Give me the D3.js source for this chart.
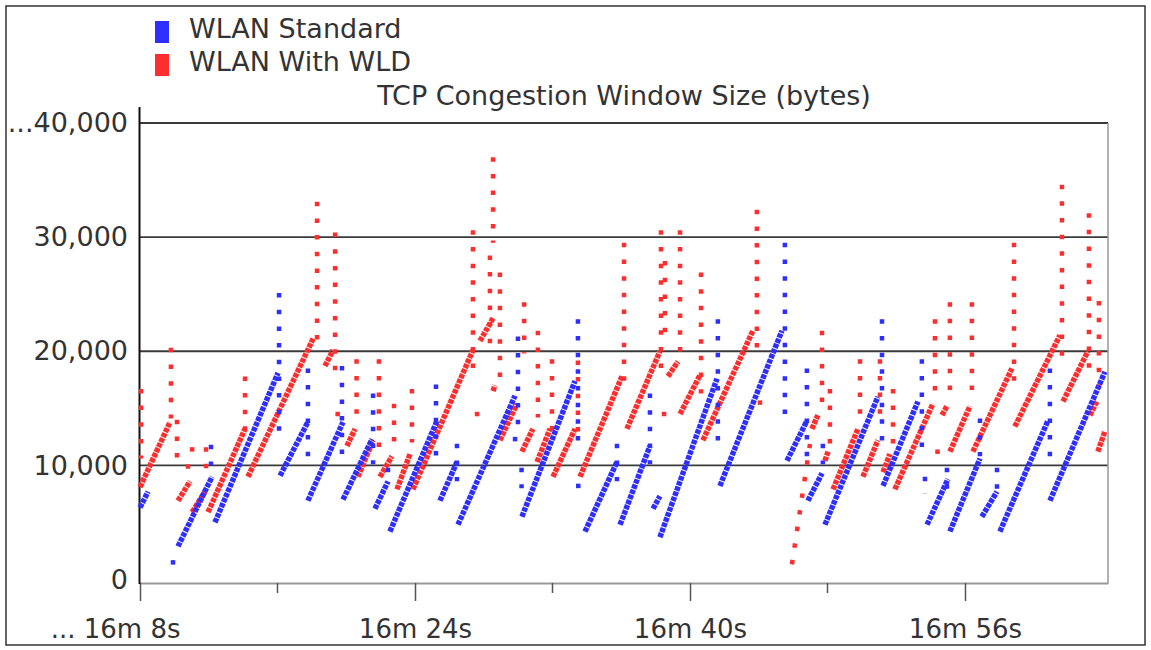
<!DOCTYPE html>
<html>

<head>
    <meta charset="utf-8">
    <script src="https://d3js.org/d3.v7.min.js"></script>
    <style>
        body { margin: 0; background: #fff; }
        text { font-family: "DejaVu Sans", Verdana, sans-serif; fill: #333; }
    </style>
    <script>
        // time is in seconds after 16m 8s, window size in bytes
        let seriesNames = ["WLAN Standard", "WLAN With WLD"];
        let seriesColors = ["#2e2eff", "#ff2e2e"];

        let xTicks = [0, 16, 32, 48];
        let xTickLabels = ["... 16m 8s", "16m 24s", "16m 40s", "16m 56s"];
        let xMinorTicks = [8, 24, 40];
        let yTicks = [0, 10000, 20000, 30000, 40000];
        let yTickLabels = ["0", "10,000", "20,000", "30,000", "...40,000"];

        // growth ramps: [t start, bytes start, t end, bytes end]
        let blueRamps = [
            [0.00, 6300, 0.47, 7700], [2.21, 2900, 4.19, 9000], [4.36, 5000, 8.03, 18100],
            [8.15, 9100, 9.77, 13800], [9.77, 6900, 11.81, 13800], [11.81, 7000, 13.50, 12300],
            [13.67, 6200, 14.43, 8600], [14.54, 4200, 17.28, 13900], [17.45, 6900, 18.44, 10300],
            [18.50, 4800, 21.82, 16100], [22.22, 5500, 25.31, 17400], [25.89, 4200, 27.75, 10300],
            [27.93, 4800, 29.67, 11700], [29.85, 6200, 30.25, 7300], [30.25, 3700, 33.57, 17600],
            [33.74, 8200, 37.35, 21800], [37.64, 10400, 38.80, 13900], [38.86, 6900, 39.68, 9300],
            [39.85, 4800, 42.93, 16000], [43.23, 8200, 45.26, 15600], [45.79, 4800, 47.01, 8800],
            [47.12, 4200, 48.87, 10600], [48.98, 5500, 49.86, 7700], [50.03, 4200, 52.82, 13900],
            [52.94, 6900, 56.14, 18200]
        ];
        let redRamps = [
            [0.00, 8100, 1.75, 13800], [2.21, 6900, 2.91, 8600], [3.03, 5900, 3.78, 7700],
            [3.96, 5900, 6.11, 13200], [6.28, 9000, 10.07, 21100], [10.76, 18700, 11.23, 20100],
            [12.04, 11700, 12.51, 13200], [12.68, 9000, 13.56, 12200], [13.96, 9000, 14.66, 10800],
            [14.95, 7900, 15.71, 11000], [15.88, 7900, 19.37, 20100], [19.78, 20900, 20.54, 22900],
            [20.54, 16500, 20.65, 17000], [20.94, 12200, 21.93, 15400], [22.22, 11200, 22.86, 13200],
            [23.10, 10300, 23.85, 13200], [24.03, 9000, 25.31, 13200], [25.60, 9000, 28.04, 17800],
            [28.33, 13200, 30.25, 20000], [30.72, 17800, 31.30, 19100], [31.42, 14500, 32.58, 17900],
            [32.75, 12200, 35.66, 21800], [39.09, 13200, 39.44, 14400], [39.85, 10400, 40.03, 11200],
            [40.32, 7900, 41.77, 13200], [42.06, 9000, 42.93, 12200], [43.23, 9400, 43.63, 11000],
            [43.92, 7900, 46.13, 15400], [46.66, 14400, 46.95, 15200], [47.12, 11200, 48.29, 15200],
            [48.46, 11200, 50.73, 18500], [50.90, 13400, 53.52, 21400], [53.70, 15600, 55.15, 20000],
            [55.27, 14400, 55.67, 15600], [55.73, 11200, 56.14, 13000]
        ];

        // vertical runs of samples at one instant: [t, bytes low, bytes high]
        let blueSpikes = [
            [1.92, 1500, 1500], [4.13, 10200, 11600], [8.09, 13200, 24900], [9.77, 10800, 18300],
            [11.75, 10800, 18500], [13.56, 10300, 16100], [14.43, 9600, 9600], [17.22, 11000, 16900],
            [18.44, 8800, 11700], [21.82, 12300, 12300], [21.99, 13800, 21100], [22.20, 8200, 9600],
            [25.48, 12300, 22600], [25.50, 8200, 8200], [27.75, 8800, 11700], [29.67, 10300, 16100],
            [33.62, 12300, 22600], [37.52, 14500, 29300], [38.80, 11000, 18300], [39.73, 10300, 11700],
            [43.17, 12300, 22600], [45.49, 11700, 19100], [45.67, 7700, 8800], [46.95, 8100, 9600],
            [48.87, 11000, 13900], [49.86, 8100, 9600], [52.94, 11000, 18300]
        ];
        let redSpikes = [
            [0.06, 10800, 16500], [1.80, 14300, 20100], [2.15, 10000, 13800], [2.79, 9900, 9900],
            [3.03, 11400, 11400], [3.84, 9900, 11400], [6.11, 13200, 17600], [10.30, 21100, 32900],
            [11.35, 18500, 30200], [11.50, 14500, 14500], [12.60, 14700, 19100], [13.90, 11500, 19100],
            [14.78, 12200, 15200], [15.82, 12200, 16500], [19.37, 18500, 30400], [19.61, 14500, 14500],
            [20.36, 20900, 28200], [20.54, 29700, 36800], [20.94, 17900, 26700], [22.35, 20000, 24100],
            [23.15, 14400, 21600], [23.97, 13200, 19100], [25.48, 13000, 19000], [28.16, 17600, 29300],
            [30.31, 18500, 30400], [30.49, 14500, 14500], [30.54, 21800, 27700], [31.42, 20000, 30400],
            [32.64, 16500, 26700], [35.89, 19600, 32200], [36.07, 15500, 15500], [39.68, 15600, 21600],
            [40.14, 12100, 16500], [41.89, 14700, 19100], [43.05, 14400, 19100], [43.81, 12100, 16500],
            [46.25, 16700, 22600], [46.40, 11200, 11200], [47.12, 16700, 24100], [48.40, 16700, 24100],
            [50.85, 17600, 29300], [53.64, 19600, 34400], [55.21, 18500, 31900], [55.79, 16700, 24200]
        ];
        // the sparse restart after the drop near 16m 46s: [t start, bytes start, t end, bytes end]
        let redRestart = [[37.93, 1500, 38.98, 11700]];

        let width = 1151;
        let height = 650;

        function draw() {
            let svg = d3.select('body').append('svg')
                .attr('width', width)
                .attr('height', height);

            let x = d3.scaleLinear().domain([0, 56.32]).range([140, 1108]);
            let y = d3.scaleLinear().domain([0, 40000]).range([579.5, 123]);

            // outer frame
            svg.append("rect")
                .attr("x", 6).attr("y", 6)
                .attr("width", 1139).attr("height", 639)
                .attr("fill", "none").attr("stroke", "#333").attr("stroke-width", 1.5);

            // gridlines
            svg.append("g").selectAll("line")
                .data(yTicks.slice(1))
                .join("line")
                .attr("x1", 140).attr("x2", 1108)
                .attr("y1", d => y(d)).attr("y2", d => y(d))
                .attr("stroke", "#3a3a3a").attr("stroke-width", 1.8);

            // right edge of plot
            svg.append("line")
                .attr("x1", 1108).attr("x2", 1108).attr("y1", 123).attr("y2", 583)
                .attr("stroke", "#999").attr("stroke-width", 1.5);

            // x axis
            let xAxis = svg.append("g")
                .attr("transform", "translate(0,583)")
                .call(d3.axisBottom(x).tickValues(xTicks)
                    .tickFormat((d, i) => xTickLabels[i]).tickSize(18).tickSizeOuter(0));
            xAxis.select(".domain").attr("stroke", "#999").attr("stroke-width", 2);
            xAxis.selectAll(".tick line").attr("stroke", "#555").attr("stroke-width", 1.5);
            xAxis.selectAll(".tick text")
                .attr("y", 55).attr("dy", 0)
                .style("font-size", "26px")
                .attr("fill", "#333")
                .attr("text-anchor", (d, i) => i == 0 ? "end" : "middle")
                .attr("x", (d, i) => i == 0 ? 40 : 0);
            svg.append("g").selectAll("line")
                .data(xMinorTicks)
                .join("line")
                .attr("x1", d => x(d)).attr("x2", d => x(d))
                .attr("y1", 583).attr("y2", 593)
                .attr("stroke", "#555").attr("stroke-width", 1.5);

            // y axis
            let yAxis = svg.append("g")
                .attr("transform", "translate(140,0)")
                .call(d3.axisLeft(y).tickValues(yTicks)
                    .tickFormat((d, i) => yTickLabels[i]).tickSize(0).tickPadding(12));
            yAxis.select(".domain").remove();
            yAxis.selectAll(".tick text").style("font-size", "27px").attr("fill", "#333");
            svg.append("line")
                .attr("x1", 139.5).attr("x2", 139.5).attr("y1", 107).attr("y2", 584)
                .attr("stroke", "#111").attr("stroke-width", 2);

            // samples
            let rampData = [redRamps, blueRamps];
            let spikeData = [redSpikes, blueSpikes];
            let colorOf = [seriesColors[1], seriesColors[0]];

            [0, 1].forEach(k => {
                let g = svg.append("g");
                g.selectAll("line.spike")
                    .data(spikeData[k])
                    .join("line")
                    .attr("class", "spike")
                    .attr("x1", d => x(d[0])).attr("x2", d => x(d[0]))
                    .attr("y1", d => y(d[2]) - 2.25).attr("y2", d => y(d[1]) + 2.25)
                    .attr("stroke", colorOf[k]).attr("stroke-width", 4.5)
                    .attr("stroke-dasharray", "4.5 12.16");
                if (k == 0) {
                    g.selectAll("line.restart")
                        .data(redRestart)
                        .join("line")
                        .attr("class", "restart")
                        .attr("x1", d => x(d[0])).attr("y1", d => y(d[1]) + 2)
                        .attr("x2", d => x(d[2])).attr("y2", d => y(d[3]) - 2)
                        .attr("stroke", colorOf[k]).attr("stroke-width", 4.5)
                        .attr("stroke-dasharray", "4.5 12.3");
                }
                g.selectAll("line.ramp")
                    .data(rampData[k])
                    .join("line")
                    .attr("class", "ramp")
                    .attr("x1", d => x(d[0])).attr("y1", d => y(d[1]))
                    .attr("x2", d => x(d[2])).attr("y2", d => y(d[3]))
                    .attr("stroke", colorOf[k]).attr("stroke-width", 5.5)
                    .attr("stroke-dasharray", "4.5 1");
            });

            // legend
            let legend = svg.append("g").selectAll("g")
                .data(seriesNames)
                .join("g")
                .attr("transform", (d, i) => "translate(155," + (21 + i * 33) + ")");
            legend.append("rect")
                .attr("width", 14).attr("height", 22)
                .attr("fill", (d, i) => seriesColors[i]);
            legend.append("text")
                .attr("x", 34).attr("y", 17)
                .style("font-size", "27px")
                .text(d => d);

            // title
            svg.append("text")
                .attr("x", 624).attr("y", 105)
                .attr("text-anchor", "middle")
                .style("font-size", "27px")
                .text("TCP Congestion Window Size (bytes)");
        }
    </script>
</head>

<body>
    <script>
        draw();
    </script>
</body>

</html>
